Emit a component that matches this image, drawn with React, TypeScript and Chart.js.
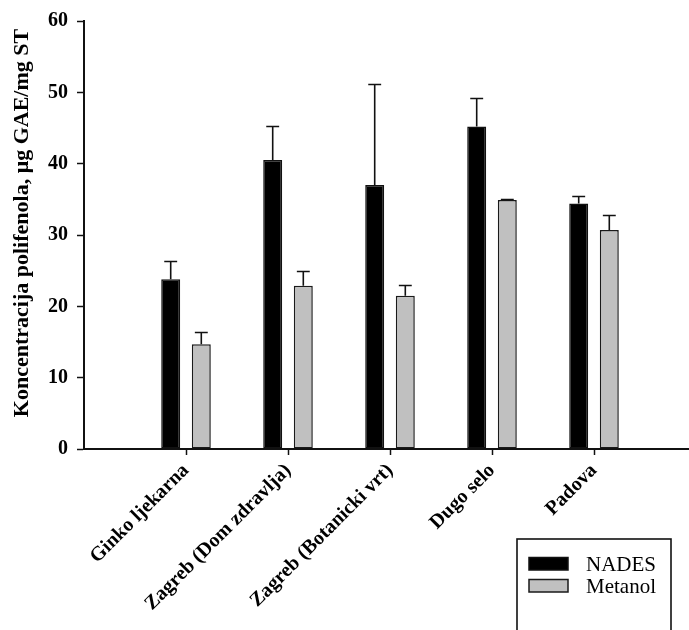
import React, { useEffect, useRef } from "react";
import { Chart, registerables } from "chart.js";

Chart.register(...registerables);

const categories = [
  "Ginko ljekarna",
  "Zagreb (Dom zdravlja)",
  "Zagreb (Botanicki vrt)",
  "Dugo selo",
  "Padova",
];
const nadesValues = [23.8, 40.5, 37.0, 45.2, 34.4];
const nadesErrors = [2.6, 4.8, 14.2, 4.0, 1.1];
const metanolValues = [14.7, 22.9, 21.5, 34.9, 30.7];
const metanolErrors = [1.7, 2.1, 1.5, 0.2, 2.1];
const seriesNames = ["NADES", "Metanol"];
const yTitle = "Koncentracija polifenola, \u03bcg GAE/mg ST";
const yMin = 0;
const yMax = 60;
const yStep = 10;

const SERIF = "'Liberation Serif', 'Times New Roman', serif";

export default function App() {
  const ref = useRef<HTMLCanvasElement | null>(null);

  useEffect(() => {
    if (!ref.current) return;
    const labels = ["", ...categories, ""];
    const pad = (a: number[]) => [null, ...a, null];
    const errors = [pad(nadesErrors), pad(metanolErrors)];

    const errorBars = {
      id: "errorBars",
      afterDatasetsDraw(chart: any) {
        const ctx = chart.ctx;
        const y = chart.scales.y;
        ctx.save();
        ctx.strokeStyle = "#111";
        ctx.lineWidth = 1.6;
        chart.data.datasets.forEach((ds: any, i: number) => {
          const meta = chart.getDatasetMeta(i);
          meta.data.forEach((el: any, j: number) => {
            const v = ds.data[j];
            const e = errors[i][j];
            if (v == null || e == null) return;
            const top = Math.round(y.getPixelForValue(v + e)) + 0.5;
            const cap = el.width * 0.34;
            ctx.beginPath();
            ctx.moveTo(el.x, el.y);
            ctx.lineTo(el.x, top);
            ctx.moveTo(el.x - cap, top);
            ctx.lineTo(el.x + cap, top);
            ctx.stroke();
          });
        });
        ctx.restore();
      },
    };

    const extras = {
      id: "extras",
      afterDraw(chart: any) {
        const ctx = chart.ctx;
        const area = chart.chartArea;
        ctx.save();
        // y-axis title
        ctx.translate(22, (area.top + area.bottom) / 2 - 12);
        ctx.rotate(-Math.PI / 2);
        ctx.font = `bold 22px ${SERIF}`;
        ctx.fillStyle = "#000";
        ctx.textAlign = "center";
        ctx.textBaseline = "middle";
        ctx.fillText(yTitle, 0, 0);
        ctx.restore();

        // legend
        ctx.save();
        const lx = 517;
        const ly = 539;
        ctx.strokeStyle = "#111";
        ctx.lineWidth = 1.6;
        ctx.strokeRect(lx, ly, 154, 120);
        chart.data.datasets.forEach((ds: any, i: number) => {
          const sy = 557.5 + i * 22;
          ctx.fillStyle = ds.backgroundColor;
          ctx.fillRect(529, sy, 39, 12.5);
          ctx.strokeStyle = ds.borderColor;
          ctx.lineWidth = 1.5;
          ctx.strokeRect(529, sy, 39, 12.5);
          ctx.fillStyle = "#000";
          ctx.font = `21px ${SERIF}`;
          ctx.textAlign = "left";
          ctx.textBaseline = "alphabetic";
          ctx.fillText(ds.label, 586, 571 + i * 21.5);
        });
        ctx.restore();
      },
    };

    const chart = new Chart(ref.current, {
      type: "bar",
      data: {
        labels,
        datasets: [
          {
            label: seriesNames[0],
            data: pad(nadesValues),
            backgroundColor: "#000000",
            borderColor: "#111111",
            borderWidth: 1.5,
            borderSkipped: false,
          },
          {
            label: seriesNames[1],
            data: pad(metanolValues),
            backgroundColor: "#c0c0c0",
            borderColor: "#1a1a1a",
            borderWidth: 1.5,
            borderSkipped: false,
          },
        ],
      },
      options: {
        responsive: false,
        animation: false,
        devicePixelRatio: 1,
        categoryPercentage: 0.6,
        barPercentage: 0.62,
        layout: { padding: { top: 21, left: 0, right: 4, bottom: 0 } },
        plugins: {
          legend: { display: false },
          tooltip: { enabled: false },
          title: { display: false },
        },
        scales: {
          x: {
            offset: false,
            afterFit: (s: any) => {
              s.height = 181;
              s.paddingLeft = 0;
              s.paddingRight = 0;
            },
            grid: {
              offset: false,
              drawOnChartArea: false,
              drawTicks: true,
              tickLength: 6,
              tickWidth: 1.5,
              tickColor: (c: any) =>
                c.index === 0 || c.index === labels.length - 1 ? "rgba(0,0,0,0)" : "#111",
            },
            border: { display: true, color: "#111", width: 2 },
            ticks: {
              autoSkip: false,
              minRotation: 45,
              maxRotation: 45,
              padding: 4,
              color: "#000",
              font: { family: SERIF, size: 20, weight: "bold" },
            },
          },
          y: {
            min: yMin,
            max: yMax,
            afterFit: (s: any) => {
              s.width = 84;
            },
            grid: {
              drawOnChartArea: false,
              drawTicks: true,
              tickLength: 7,
              tickWidth: 1.5,
              tickColor: "#111",
            },
            border: { display: true, color: "#111", width: 2 },
            ticks: {
              stepSize: yStep,
              padding: 9,
              color: "#000",
              font: { family: SERIF, size: 20, weight: "bold" },
            },
          },
        },
      },
      plugins: [errorBars, extras],
    } as any);
    return () => chart.destroy();
  }, []);

  return (
    <div
      style={{
        position: "fixed",
        left: 0,
        top: 0,
        width: 689,
        height: 630,
        overflow: "hidden",
        background: "#fff",
      }}
    >
      <canvas ref={ref} width={700} height={630} style={{ display: "block" }} />
    </div>
  );
}
